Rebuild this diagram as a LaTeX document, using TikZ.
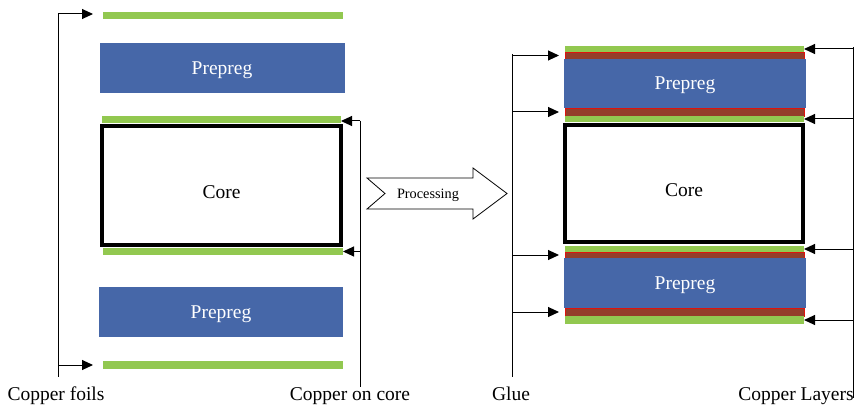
\documentclass[tikz,border=0pt]{standalone}
\usepackage{fontspec}
\setmainfont{Liberation Serif}
\usetikzlibrary{arrows.meta,positioning,calc}
\definecolor{foilgreen}{RGB}{146,200,80}
\definecolor{gluered}{RGB}{148,62,42}
\definecolor{prepregblue}{RGB}{70,103,168}

\begin{document}
\begin{tikzpicture}[x=1pt, y=-1pt, nodes={inner sep=0, outer sep=0},
    bigfont/.style={font=\fontsize{19.5}{23}\selectfont},
    foil/.style={fill=foilgreen, minimum width=240pt, minimum height=7pt},
    gluelayer/.style={fill=gluered, draw=red!70!gluered, line width=0.35pt,
      minimum width=239pt, minimum height=7pt},
    prepreg/.style={bigfont, fill=prepregblue, text=white, text depth=0pt,
      minimum width=245pt, minimum height=50pt},
    core/.style={bigfont, draw=black, line width=4pt, text height=26pt,
      text depth=0pt, minimum width=239pt, minimum height=119pt},
    lbl/.style={bigfont, anchor=base},
    pointer/.style={-{Triangle[length=11pt,width=10pt]}, line width=1pt},
    wire/.style={line width=1pt}]
  \useasboundingbox (0,0) rectangle (858,406);

  % before pressing
  \node[foil] (foilA) at (223,15.5) {};
  \node[prepreg] (ppA) at (222,68) {Prepreg};
  \node[foil, minimum width=239pt] (ccA) at (221.5,119.5) {};
  \node[core] (coreA) at (221.5,185.5) {Core};
  \node[foil] (ccB) at (223,251.5) {};
  \node[prepreg, minimum width=244pt] (ppB) at (221,312) {Prepreg};
  \node[foil, minimum height=8pt] (foilB) at (223,365) {};

  \node[lbl] (cflbl) at (56,400) {Copper foils};
  \node[lbl] (cclbl) at (350,400) {Copper on core};

  \coordinate (cf top) at (58,14);
  \coordinate (cf bot) at (58,377);
  \draw[wire] (cf top) -- (cf bot);
  \draw[pointer, shorten >=10pt] (cf top) -- (cf top -| foilA.west);
  \draw[pointer, shorten >=10pt] (cf bot |- foilB.west) -- (foilB.west);

  \coordinate (cc top) at (360,121);
  \coordinate (cc bot) at (360,387);
  \draw[wire] (cc top) -- (cc bot);
  \draw[pointer] (cc top) -- (cc top -| ccA.east);
  \draw[pointer] (cc bot |- ccB.east) -- (ccB.east);

  % processing arrow
  \coordinate (pr tail) at (367,178);
  \draw[line width=0.8pt] (pr tail) -- (473,178) -- (473,168) -- (507,193.5)
    -- (473,219) -- (473,209) -- (367,209) -- (385,193.5) -- cycle;
  \node[font=\fontsize{14.3}{17}\selectfont, text depth=0pt] (proc) at (428,193.5) {Processing};

  % after pressing
  \node[foil, minimum width=239pt, minimum height=6pt] (gA) at (684.5,49) {};
  \node[gluelayer] (rA) at (684.5,55.5) {};
  \node[prepreg, minimum width=242pt, minimum height=49pt] (ppC) at (685,83.5) {Prepreg};
  \node[gluelayer, minimum height=8pt] (rB) at (684.5,112) {};
  \node[foil, minimum width=239pt, minimum height=6pt] (gB) at (684.5,119) {};
  \node[core, minimum width=238pt, minimum height=117pt] (coreB) at (684,183.5) {Core};
  \node[foil, minimum width=239pt, minimum height=6pt] (gC) at (684.5,249) {};
  \node[gluelayer, minimum height=6pt] (rC) at (684.5,255) {};
  \node[prepreg, minimum width=242pt] (ppD) at (685,283) {Prepreg};
  \node[gluelayer, minimum height=8pt] (rD) at (684.5,312) {};
  \node[foil, minimum width=239pt, minimum height=8pt] (gD) at (684.5,320) {};

  \node[lbl] (gllbl) at (511,400) {Glue};
  \node[lbl] (cllbl) at (796,400) {Copper Layers};

  \coordinate (gl top) at (512,54);
  \coordinate (gl bot) at (512,377);
  \draw[wire] (gl top) -- (gl bot);
  \foreach \r in {rA,rB,rC,rD}
    \draw[pointer, shorten >=6pt] (gl top |- \r.west) -- (\r.west);

  \coordinate (cl top) at (853,47);
  \coordinate (cl bot) at (853,398);
  \draw[wire] (cl top) -- (cl bot);
  \foreach \g in {gA,gB,gC,gD}
    \draw[pointer] (cl top |- \g.east) -- (\g.east);
\end{tikzpicture}
\end{document}
